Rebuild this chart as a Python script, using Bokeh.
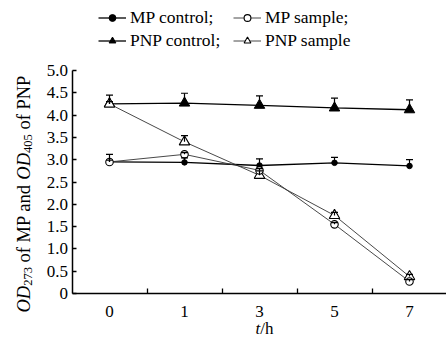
import math
from bokeh.plotting import figure
from bokeh.models import (Range1d, FixedTicker, Whisker, TeeHead, ColumnDataSource,
                          Legend, LegendItem, Label, PrintfTickFormatter)
from bokeh.embed import file_html
from bokeh.resources import INLINE

# ---- data ----
times = ["0", "1", "3", "5", "7"]
mp_control = [2.95, 2.94, 2.87, 2.93, 2.86]
mp_control_err = [0.17, 0.10, 0.15, 0.12, 0.14]
mp_sample = [2.95, 3.12, 2.76, 1.55, 0.27]
mp_sample_err = [0.04, 0.04, 0.04, 0.04, 0.04]
pnp_control = [4.25, 4.27, 4.22, 4.16, 4.12]
pnp_control_err = [0.20, 0.22, 0.21, 0.22, 0.22]
pnp_sample = [4.25, 3.40, 2.65, 1.75, 0.38]
pnp_sample_err = [0.05, 0.14, 0.10, 0.07, 0.05]
y_ticks = [0, 0.5, 1.0, 1.5, 2.0, 2.5, 3.0, 3.5, 4.0, 4.5, 5.0]
y_tick_labels = ["0", "0.5", "1.0", "1.5", "2.0", "2.5", "3.0", "3.5", "4.0", "4.5", "5.0"]
legend_labels = ["MP control;", "MP sample;", "PNP control;", "PNP sample"]

FONT = "Liberation Serif"
xs = list(range(len(times)))

# ---- layout (pixels inside the canvas) ----
W, H = 446, 337
AX_LEFT, AX_RIGHT = 71.5, 446.5   # x of data -0.5 and 4.5
AX_TOP, AX_BOTTOM = 70, 293       # y of 5.0 and 0
x0, x1 = -0.5, len(times) - 0.5
y0, y1 = y_ticks[0], y_ticks[-1]
sx = (AX_RIGHT - AX_LEFT) / (x1 - x0)
sy = (AX_BOTTOM - AX_TOP) / (y1 - y0)

p = figure(width=W, height=H, output_backend="svg", toolbar_location=None,
           x_range=Range1d(x0 - AX_LEFT / sx, x1 + (W - AX_RIGHT) / sx),
           y_range=Range1d(y0 - (H - AX_BOTTOM) / sy, y1 + AX_TOP / sy),
           min_border=0, min_border_left=0, min_border_right=0,
           min_border_top=0, min_border_bottom=0)
p.outline_line_color = None
p.xgrid.visible = False
p.ygrid.visible = False
p.background_fill_color = "white"
p.border_fill_color = "white"

# x axis: labels at category centres, ticks between categories
xa = p.xaxis[0]
xa.fixed_location = y0
xa.bounds = (x0, x1)
xa.ticker = FixedTicker(ticks=xs, minor_ticks=[i + 0.5 for i in xs[:-1]])
xa.major_label_overrides = {i: t for i, t in zip(xs, times)}
xa.major_tick_line_color = None
xa.minor_tick_in = 5
xa.minor_tick_out = 0
xa.minor_tick_line_color = "black"
xa.minor_tick_line_width = 1.3
xa.axis_line_width = 1.5
xa.axis_line_color = "black"
xa.major_label_text_font = FONT
xa.major_label_text_font_size = "17px"
xa.major_label_text_color = "black"
xa.major_label_standoff = 6

ya = p.yaxis[0]
ya.fixed_location = x0
ya.bounds = (y0, y1)
ya.ticker = FixedTicker(ticks=y_ticks)
ya.formatter = PrintfTickFormatter(format="%.1f")
ya.major_label_overrides = {v: s for v, s in zip(y_ticks, y_tick_labels)}
ya.major_tick_in = 4
ya.major_tick_out = 0
ya.major_tick_line_width = 1.3
ya.minor_tick_line_color = None
ya.axis_line_width = 1.5
ya.axis_line_color = "black"
ya.major_label_text_font = FONT
ya.major_label_text_font_size = "17px"
ya.major_label_text_color = "black"
ya.major_label_standoff = 4

src = ColumnDataSource(dict(
    x=xs,
    mpc=mp_control, mpc_up=[v + e for v, e in zip(mp_control, mp_control_err)],
    mps=mp_sample, mps_up=[v + e for v, e in zip(mp_sample, mp_sample_err)],
    pnc=pnp_control, pnc_up=[v + e for v, e in zip(pnp_control, pnp_control_err)],
    pns=pnp_sample, pns_up=[v + e for v, e in zip(pnp_sample, pnp_sample_err)],
))

for lo, up in [("mpc", "mpc_up"), ("mps", "mps_up"), ("pnc", "pnc_up"), ("pns", "pns_up")]:
    p.add_layout(Whisker(base="x", lower=lo, upper=up, source=src, lower_head=None,
                         upper_head=TeeHead(size=7, line_width=1.2, line_color="black"),
                         line_width=1.2, line_color="black", level="glyph"))

# lines
l_mpc = p.line("x", "mpc", source=src, line_color="black", line_width=1.3)
l_pnc = p.line("x", "pnc", source=src, line_color="black", line_width=1.3)
l_mps = p.line("x", "mps", source=src, line_color="#333333", line_width=0.9)
l_pns = p.line("x", "pns", source=src, line_color="#333333", line_width=0.9)

# markers
s_pnc = p.scatter("x", "pnc", source=src, marker="triangle", size=10.5,
                  fill_color="black", line_color="black")
s_pns = p.scatter("x", "pns", source=src, marker="triangle", size=10.5,
                  fill_color="white", line_color="black", line_width=1.1)
s_mpc = p.scatter("x", "mpc", source=src, marker="circle", size=5.5,
                  fill_color="black", line_color="black")
s_mps = p.scatter("x", "mps", source=src, marker="circle", size=7.5,
                  fill_color="white", line_color="black", line_width=1.1)

# legend: two columns, each a vertical legend; location = bottom-left from frame bottom-left
LEG_TOP, ROW_H, ROW_GAP = 6, 22, 1
leg_h = 2 * ROW_H + ROW_GAP
common = dict(orientation="vertical", glyph_width=28, glyph_height=17,
              label_height=ROW_H, label_standoff=4, spacing=ROW_GAP, padding=0,
              margin=0, border_line_color=None, background_fill_alpha=0,
              label_text_font=FONT, label_text_font_size="17.5px",
              label_text_color="black")
leg1 = Legend(items=[LegendItem(label=legend_labels[0], renderers=[l_mpc, s_mpc]),
                     LegendItem(label=legend_labels[2], renderers=[l_pnc, s_pnc])],
              location=(98, H - LEG_TOP - leg_h), **common)
leg2 = Legend(items=[LegendItem(label=legend_labels[1], renderers=[l_mps, s_mps]),
                     LegendItem(label=legend_labels[3], renderers=[l_pns, s_pns])],
              location=(233, H - LEG_TOP - leg_h), **common)
p.add_layout(leg1)
p.add_layout(leg2)

# y-axis title built from pieces (italic OD, subscripts); screen units from frame bottom-left
F = 18.5
SUB = 12.5
SPACE = 0.25
pieces = [("OD", F, "italic", 0.0, 1.444, 0),
          ("273", SUB, "normal", 4.0, 1.5, 0),
          ("of MP and", F, "normal", 0.0, 4.222, 1),
          ("OD", F, "italic", 0.0, 1.444, 1),
          ("405", SUB, "normal", 4.0, 1.5, 0),
          ("of PNP", F, "normal", 0.0, 2.917, 1)]
pos = 25.0
for txt, size, style, shift, em, lead in pieces:
    pos += lead * SPACE * F
    p.add_layout(Label(x=23 + shift, y=pos, x_units="screen", y_units="screen",
                       text=txt, angle=math.pi / 2, text_align="left",
                       text_baseline="alphabetic", text_font=FONT,
                       text_font_size=f"{size}px", text_font_style=style,
                       text_color="black"))
    pos += em * size

# x-axis title t/h
p.add_layout(Label(x=255, y=9, x_units="screen", y_units="screen", text="t",
                   text_font=FONT, text_font_size="17px", text_font_style="italic",
                   text_align="left", text_baseline="alphabetic", text_color="black"))
p.add_layout(Label(x=255 + 0.278 * 17, y=9, x_units="screen", y_units="screen", text="/h",
                   text_font=FONT, text_font_size="17px", text_align="left",
                   text_baseline="alphabetic", text_color="black"))

open("out.html", "w").write(file_html(p, INLINE))
